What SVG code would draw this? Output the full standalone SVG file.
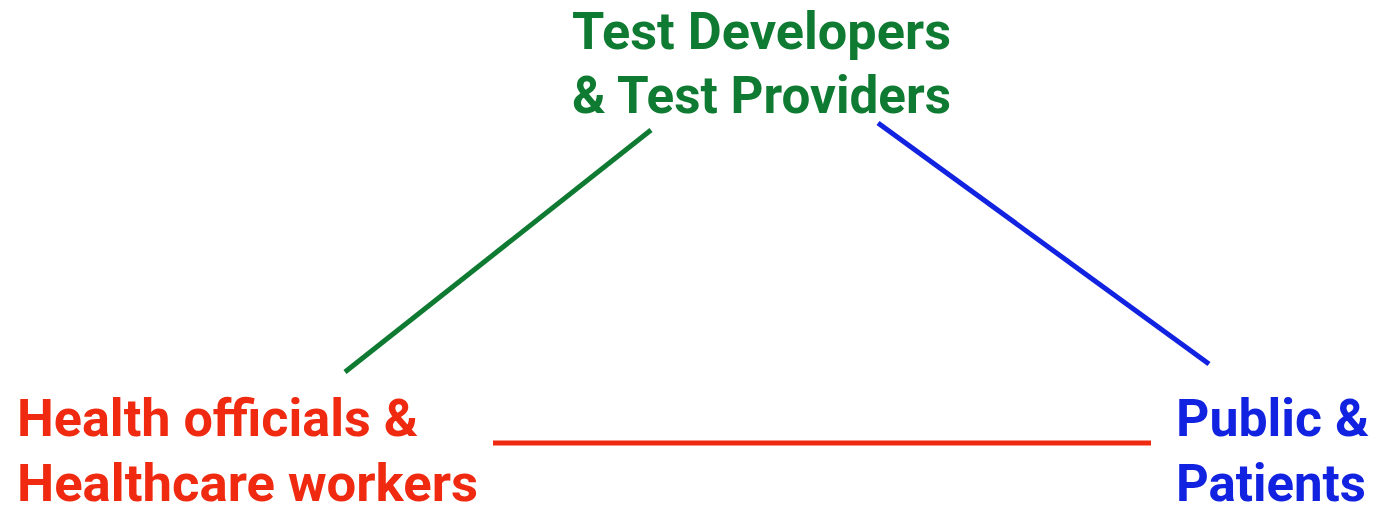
<svg xmlns="http://www.w3.org/2000/svg" width="1378" height="516" viewBox="0 0 1378 516">
<style>
.t{font-family:Roboto,"Liberation Sans",sans-serif;font-weight:700;font-size:52px}
.g{fill:#0f7a31}.r{fill:#ef2a10}.b{fill:#1122e0}
.c{stroke-width:5;stroke-linecap:butt;fill:none}
</style>
<rect width="1378" height="516" fill="#fff"/>
<g id="connectors">
<line class="c" x1="345" y1="372" x2="651" y2="130" stroke="#0f7a31"/>
<line class="c" x1="878" y1="123" x2="1209" y2="364" stroke="#1122e0"/>
<line class="c" x1="493" y1="443" x2="1151" y2="443" stroke="#ef2a10"/>
</g>
<g id="test-developers">
<text class="t g" x="572" y="48.5" textLength="379" lengthAdjust="spacingAndGlyphs">Test Developers</text>
<text class="t g" x="572" y="113" textLength="379" lengthAdjust="spacingAndGlyphs">&amp; Test Providers</text>
</g>
<g id="health-officials">
<text class="t r" x="17" y="436" textLength="401" lengthAdjust="spacingAndGlyphs">Health officials &amp;</text>
<text class="t r" x="17" y="501" textLength="461" lengthAdjust="spacingAndGlyphs">Healthcare workers</text>
</g>
<g id="public-patients">
<text class="t b" x="1176" y="436" textLength="193" lengthAdjust="spacingAndGlyphs">Public &amp;</text>
<text class="t b" x="1176" y="501" textLength="190" lengthAdjust="spacingAndGlyphs">Patients</text>
</g>
</svg>
